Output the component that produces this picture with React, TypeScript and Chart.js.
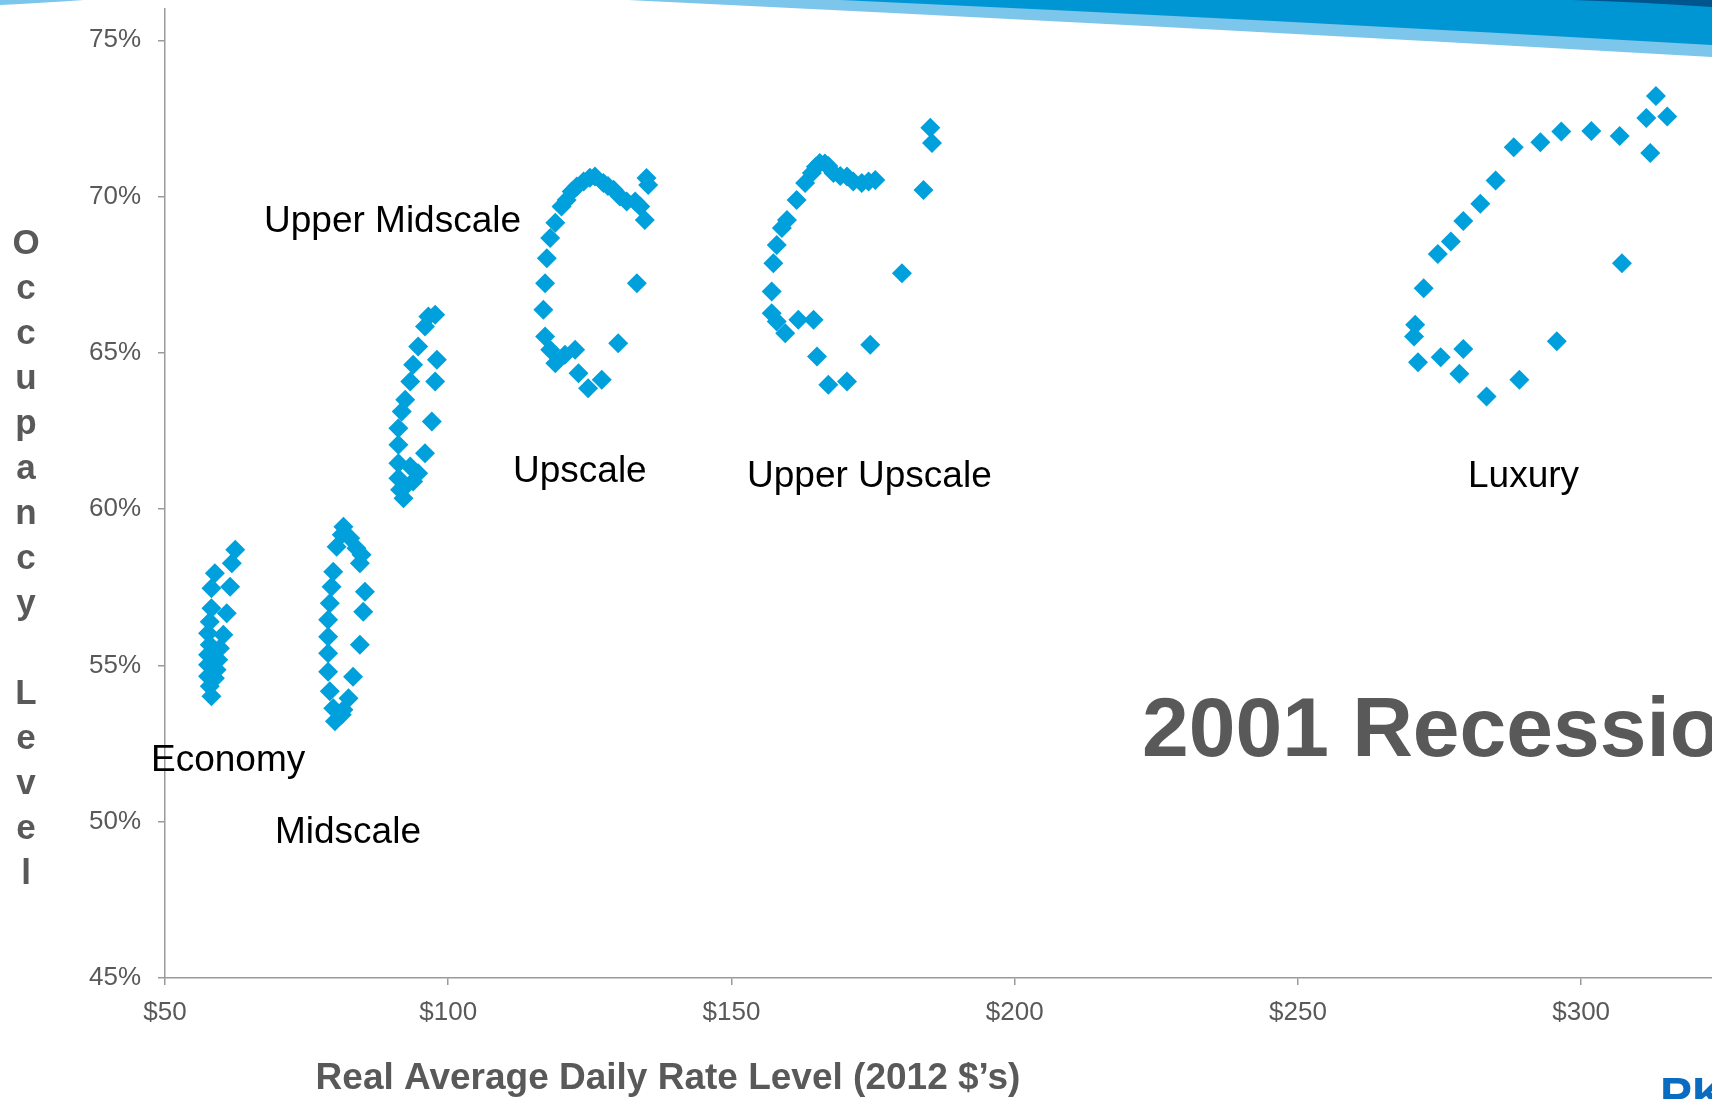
import React, { useEffect, useRef } from "react";
import { Chart, registerables } from "chart.js";

Chart.register(...registerables);

// ---- Data (Real ADR in 2012 $, Occupancy %) ----
const economyADR = [62.4, 61.8, 58.8, 58.2, 61.5, 58.2, 60.9, 57.9, 60.3, 57.6, 57.9, 59.7, 57.6, 59.4, 57.6, 59.1, 57.6, 58.8, 57.9, 58.2];
const economyOcc = [58.7, 58.27, 57.95, 57.47, 57.52, 56.83, 56.67, 56.4, 55.98, 56.03, 55.66, 55.55, 55.34, 55.18, 55.02, 54.86, 54.65, 54.59, 54.33, 54.01];

const midscaleADR = [81.5, 81.2, 82.7, 80.3, 83.8, 84.7, 84.4, 79.7, 79.4, 85.3, 79.1, 85.0, 78.8, 78.8, 84.4, 78.8, 78.8, 83.2, 79.1, 82.4, 79.7, 81.5, 80.0, 81.2];
const midscaleOcc = [59.44, 59.18, 59.07, 58.8, 58.75, 58.54, 58.27, 58.0, 57.52, 57.36, 56.99, 56.72, 56.46, 55.92, 55.66, 55.39, 54.8, 54.64, 54.17, 53.95, 53.63, 53.58, 53.21, 53.42];

const upperMidADR = [97.7, 96.5, 95.9, 94.7, 98.0, 93.8, 97.7, 93.3, 92.4, 91.8, 97.1, 91.2, 91.2, 95.9, 91.2, 93.3, 94.7, 91.2, 93.8, 92.4, 91.5, 92.1];
const upperMidOcc = [66.22, 66.16, 65.84, 65.2, 64.78, 64.62, 64.08, 64.08, 63.5, 63.12, 62.8, 62.59, 62.06, 61.79, 61.47, 61.36, 61.15, 60.99, 60.88, 60.72, 60.62, 60.35];

const upscaleADR = [118.9, 120.0, 120.9, 121.8, 122.7, 123.9, 125.0, 125.9, 127.4, 128.2, 129.2, 130.3, 131.5, 133.0, 133.9, 134.7, 135.0, 135.3, 118.0, 117.4, 117.1, 116.8, 117.1, 118.0, 118.9, 120.6, 122.4, 123.0, 124.7, 127.1, 130.0, 133.3];
const upscaleOcc = [69.16, 69.68, 69.89, 70.16, 70.32, 70.48, 70.6, 70.64, 70.43, 70.34, 70.22, 70.0, 69.84, 69.84, 69.68, 69.25, 70.59, 70.37, 68.67, 68.03, 67.23, 66.38, 65.52, 65.1, 64.67, 64.94, 65.1, 64.35, 63.87, 64.14, 65.31, 67.23];

const upperUpADR = [185.1, 185.4, 183.9, 180.1, 174.5, 170.4, 167.1, 165.1, 164.5, 161.8, 159.5, 158.0, 157.1, 157.1, 157.4, 158.0, 158.9, 159.8, 161.5, 163.0, 164.2, 164.9, 165.6, 166.5, 167.1, 168.0, 169.2, 170.4, 171.5, 173.0, 174.2, 175.4];
const upperUpOcc = [72.2, 71.71, 70.21, 67.55, 65.26, 64.08, 63.98, 64.88, 66.06, 66.06, 65.63, 66.0, 66.27, 66.96, 67.87, 68.45, 68.99, 69.25, 69.89, 70.43, 70.75, 70.95, 71.07, 71.06, 70.98, 70.75, 70.66, 70.64, 70.48, 70.43, 70.48, 70.53];

const luxuryADR = [313.2, 311.5, 315.2, 312.2, 306.8, 301.8, 296.5, 292.8, 288.1, 284.9, 282.2, 279.2, 277.0, 274.7, 272.2, 270.7, 270.5, 271.2, 275.2, 279.2, 278.5, 283.3, 289.1, 295.7, 307.2];
const luxuryOcc = [73.22, 72.51, 72.56, 71.39, 71.94, 72.1, 72.08, 71.74, 71.58, 70.51, 69.77, 69.22, 68.56, 68.16, 67.07, 65.9, 65.52, 64.7, 64.86, 65.12, 64.33, 63.6, 64.14, 65.37, 67.87];

const segmentNames = ["Economy", "Midscale", "Upper Midscale", "Upscale", "Upper Upscale", "Luxury"];
const segmentADR = [economyADR, midscaleADR, upperMidADR, upscaleADR, upperUpADR, luxuryADR];
const segmentOcc = [economyOcc, midscaleOcc, upperMidOcc, upscaleOcc, upperUpOcc, luxuryOcc];

const xTickStep = 50;
const yTickStep = 5;

const FONT = '"Liberation Sans", Arial, Helvetica, sans-serif';
const POINT_COLOR = "#00A0DC";
const GRAY_TEXT = "#595959";

const decorPlugin = {
  id: "decor",
  beforeDraw(chart: any) {
    const ctx = chart.ctx;
    ctx.save();
    // top banner swoosh
    ctx.fillStyle = "#7CC5EB";
    ctx.beginPath();
    ctx.moveTo(0, 0);
    ctx.lineTo(84, 0);
    ctx.quadraticCurveTo(40, 3, 0, 5);
    ctx.closePath();
    ctx.fill();
    ctx.beginPath();
    ctx.moveTo(628, 0);
    ctx.quadraticCurveTo(1170, 26, 1712, 57);
    ctx.lineTo(1712, 0);
    ctx.closePath();
    ctx.fill();
    ctx.fillStyle = "#0096D3";
    ctx.beginPath();
    ctx.moveTo(841, 0);
    ctx.quadraticCurveTo(1280, 20, 1712, 45);
    ctx.lineTo(1712, 0);
    ctx.closePath();
    ctx.fill();
    ctx.fillStyle = "#00558F";
    ctx.beginPath();
    ctx.moveTo(1572, 0);
    ctx.quadraticCurveTo(1640, 2, 1712, 7);
    ctx.lineTo(1712, 0);
    ctx.closePath();
    ctx.fill();
    ctx.restore();
  },
  afterDraw(chart: any) {
    const ctx = chart.ctx;
    ctx.save();
    // segment labels
    ctx.fillStyle = "#000000";
    ctx.textAlign = "left";
    ctx.textBaseline = "middle";
    ctx.font = `37px ${FONT}`;
    const labelPos: [string, number, number][] = [
      ["Upper Midscale", 264, 222],
      ["Upscale", 513, 472],
      ["Upper Upscale", 747, 477],
      ["Luxury", 1468, 477],
      ["Economy", 151, 761],
      ["Midscale", 275, 833],
    ];
    labelPos.forEach(([t, x, y]) => ctx.fillText(t, x, y));

    // big title
    ctx.fillStyle = GRAY_TEXT;
    ctx.font = `bold 84px ${FONT}`;
    ctx.fillText("2001 Recession", 1142, 733);

    // y axis title, stacked letters
    ctx.font = `bold 35px ${FONT}`;
    ctx.textAlign = "center";
    const yTitle = "Occupancy Level";
    for (let i = 0; i < yTitle.length; i++) {
      ctx.fillText(yTitle[i], 26, 244 + i * 45);
    }

    // x axis title
    ctx.font = `bold 37px ${FONT}`;
    ctx.fillText("Real Average Daily Rate Level (2012 $\u2019s)", 668, 1079);

    // logo fragment
    ctx.fillStyle = "#0A6CC0";
    ctx.font = `bold 48px ${FONT}`;
    ctx.textAlign = "left";
    ctx.textBaseline = "alphabetic";
    ctx.fillText("PKF", 1660, 1111);
    ctx.restore();
  },
};

export default function App() {
  const canvasRef = useRef<HTMLCanvasElement | null>(null);

  useEffect(() => {
    const canvas = canvasRef.current;
    if (!canvas) return;
    const datasets = segmentNames.map((name, i) => ({
      label: name,
      data: segmentADR[i].map((x, j) => ({ x, y: segmentOcc[i][j] })),
      pointStyle: "rectRot" as const,
      pointRadius: 10,
      pointHoverRadius: 10,
      backgroundColor: POINT_COLOR,
      borderColor: POINT_COLOR,
      borderWidth: 0,
      showLine: false,
    }));

    const chart = new Chart(canvas, {
      type: "scatter",
      data: { datasets },
      options: {
        responsive: false,
        animation: false,
        layout: { autoPadding: false, padding: { top: 9, left: 0, right: 0, bottom: 0 } },
        plugins: { legend: { display: false }, tooltip: { enabled: false } },
        scales: {
          x: {
            type: "linear",
            min: 50,
            max: 323.1,
            afterFit: (s: any) => {
              s.height = 121;
              s.paddingLeft = 0;
              s.paddingRight = 0;
            },
            border: { display: true, color: "#9A9A9A", width: 1.5 },
            grid: {
              display: true,
              drawOnChartArea: false,
              drawTicks: true,
              tickLength: 7,
              color: "#9A9A9A",
              lineWidth: 1.5,
            },
            ticks: {
              stepSize: xTickStep,
              includeBounds: false,
              maxRotation: 0,
              autoSkip: false,
              padding: 12,
              color: GRAY_TEXT,
              font: { family: FONT, size: 26 },
              callback: (v: any) => "$" + v,
            },
          },
          y: {
            type: "linear",
            min: 45,
            max: 76,
            afterFit: (s: any) => {
              s.width = 165;
              s.paddingTop = 0;
              s.paddingBottom = 0;
            },
            border: { display: true, color: "#9A9A9A", width: 1.5 },
            grid: {
              display: true,
              drawOnChartArea: false,
              drawTicks: true,
              tickLength: 7,
              color: "#9A9A9A",
              lineWidth: 1.5,
            },
            ticks: {
              stepSize: yTickStep,
              includeBounds: false,
              autoSkip: false,
              padding: 17,
              color: GRAY_TEXT,
              font: { family: FONT, size: 26 },
              callback: (v: any) => v + "%",
            },
          },
        },
      },
      plugins: [decorPlugin],
    });
    return () => chart.destroy();
  }, []);

  return (
    <div
      style={{
        position: "fixed",
        top: 0,
        left: 0,
        width: 1712,
        height: 1099,
        background: "#ffffff",
        overflow: "hidden",
      }}
    >
      <canvas ref={canvasRef} width={1712} height={1099} style={{ display: "block" }} />
    </div>
  );
}
